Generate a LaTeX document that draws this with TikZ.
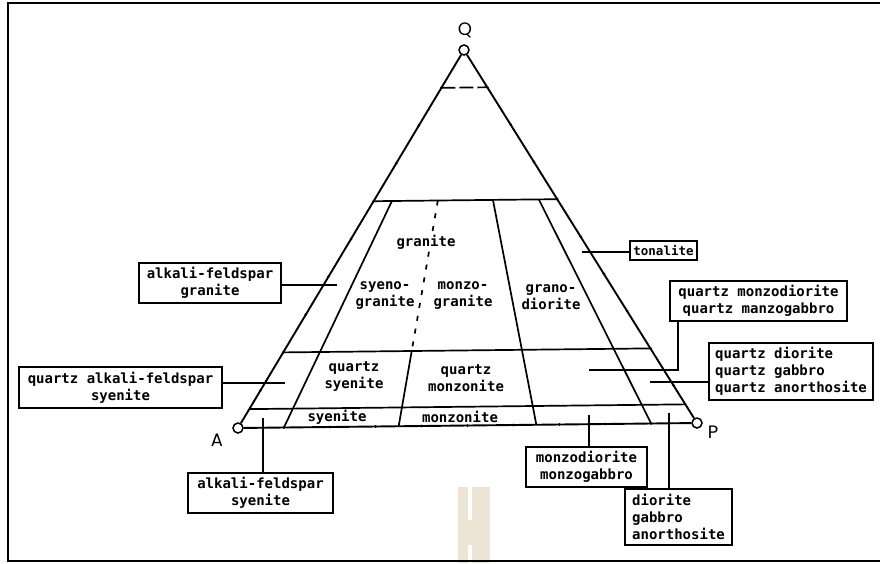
\documentclass[tikz,border=0pt]{standalone}
\usepackage{fontspec}
\setmainfont{Poppins}
\newfontfamily\lettering{DejaVu Sans Mono}
\usetikzlibrary{calc}

% point of the QAP triangle: quartz fraction #2, plagioclase ratio #3
\newcommand\qapfpt[3]{\coordinate (#1) at ($ ($(A)!#3!(P)$)!#2!(Q) $);}

\definecolor{stampbeige}{HTML}{EDE4D6}

\begin{document}
\begin{tikzpicture}[x=1pt,y=-1pt,
  edge/.style={line width=1.9pt},
  divide/.style={line width=1.7pt},
  lead/.style={line width=1.5pt},
  box/.style={draw, line width=1.5pt, inner sep=0pt, align=center,
    font=\lettering\bfseries\fontsize{14}{17}\selectfont},
  field/.style={inner sep=1pt, align=center,
    font=\lettering\bfseries\fontsize{14}{17}\selectfont},
  apexlabel/.style={inner sep=0pt, font=\fontsize{18}{18}\selectfont},
  vertex/.style={circle, draw, line width=1.5pt, minimum size=10pt,
    inner sep=0pt, fill=white},
  tickdot/.style={circle, fill, minimum size=3pt, inner sep=0pt}]
\useasboundingbox (0,0) rectangle (880,563);

% stamp at the foot of the sheet
\fill[stampbeige] (458,487) rectangle (490,563);
\fill[white] (468,487) rectangle (472,520);
\fill[white] (468,545) rectangle (472,563);

% frame
\draw[line width=2pt] (880,3) -- (8,3) -- (8,561) -- (880,561);

% corners of the triangle
\coordinate (A) at (238,428);
\coordinate (P) at (697,423);
\coordinate (Q) at (464,50);

% ticks every tenth along the three sides
\foreach \k in {1,...,9} {
  \node[tickdot] (tb\k) at ($(A)!\k/10!(P)$) {};
  \node[tickdot] (tl\k) at ($(A)!\k/10!(Q)$) {};
  \node[tickdot] (tr\k) at ($(P)!\k/10!(Q)$) {};
}

% horizontal limits of the fields
\draw[divide, dash pattern=on 14pt off 4pt] ($(A)!0.9!(Q)$) -- ($(P)!0.9!(Q)$);
\draw[divide] ($(A)!0.6!(Q)$) -- ($(P)!0.6!(Q)$);
\draw[divide] ($(A)!0.2!(Q)$) -- ($(P)!0.2!(Q)$);
\draw[divide] ($(A)!0.05!(Q)$) -- ($(P)!0.05!(Q)$);

% radial limits of the fields
\foreach \f/\n in {0.10/a, 0.35/b, 0.65/c, 0.90/d} {
  \qapfpt{top\n}{0.6}{\f}
  \qapfpt{mid\n}{0.2}{\f}
  \qapfpt{bot\n}{0}{\f}
}
\draw[divide] (topa) -- (bota);
\draw[divide] (topc) -- (botc);
\draw[divide] (topd) -- (botd);
\draw[divide] (midb) -- (botb);
\draw[divide, dash pattern=on 5pt off 8pt] (topb) -- (midb);

% sides of the triangle
\node[vertex] (vA) at (A) {};
\node[vertex] (vP) at (P) {};
\node[vertex] (vQ) at (Q) {};
\draw[edge] (vQ) -- (vA) -- (vP) -- (vQ);

\node[apexlabel] (lQ) at (465,30) {Q};
\node[apexlabel] (lA) at (217,440) {A};
\node[apexlabel] (lP) at (713,432) {P};

% names inside the fields
\node[field, fill=white] (granite) at (426,242) {granite};
\node[field] (syenogr) at (385,296) {syeno-\\granite};
\node[field] (monzogr) at (463,296) {monzo-\\granite};
\node[field] (granod) at (551,297) {grano-\\diorite};
\node[field] (qsyen) at (354,377) {quartz\\syenite};
\node[field] (qmonz) at (466,378) {quartz\\monzonite};
\node[field] (syen) at (337,417) {syenite};
\node[field] (monz) at (460,417) {monzonite};

% boxed names and their leaders
\node[box, minimum width=142pt, minimum height=40pt] (afg) at (210,283)
  {alkali-feldspar\\granite};
\coordinate (afgend) at (337,285);
\draw[lead] (afgend -| afg.east) -- (afgend);

\node[box, minimum width=203pt, minimum height=41pt] (qafs) at (120.5,387.5)
  {quartz alkali-feldspar\\syenite};
\coordinate (qafsend) at (285,383);
\draw[lead] (qafsend -| qafs.east) -- (qafsend);

\node[box, minimum width=145pt, minimum height=40pt] (afs) at (260.5,493)
  {alkali-feldspar\\syenite};
\coordinate (afsend) at (263,418);
\draw[lead] (afsend |- afs.north) -- (afsend);

\node[box, minimum width=67pt, minimum height=19pt,
  font=\lettering\bfseries\fontsize{12.5}{15}\selectfont] (ton) at (663.5,250.5)
  {tonalite};
\coordinate (tonend) at (582,252);
\draw[lead] (tonend -| ton.west) -- (tonend);

\node[box, minimum width=177pt, minimum height=40pt] (qmd) at (758.5,301)
  {quartz monzodiorite\\quartz manzogabbro};
\coordinate (qmdend) at (589,370);
\coordinate (qmdbend) at (678,370);
\draw[lead] (qmdbend |- qmd.south) -- (qmdbend) -- (qmdend);

\node[box, align=left, minimum width=164pt, minimum height=57pt] (qd) at (791,371.5)
  {quartz diorite\\quartz gabbro\\quartz anorthosite};
\coordinate (qdend) at (650,382);
\draw[lead] (qdend -| qd.west) -- (qdend);

\node[box, minimum width=121pt, minimum height=40pt] (md) at (586.5,467)
  {monzodiorite\\monzogabbro};
\coordinate (mdend) at (589,415);
\draw[lead] (mdend |- md.north) -- (mdend);

\node[box, align=left, minimum width=107pt, minimum height=56pt] (dg) at (678.5,517)
  {diorite\\gabbro\\anorthosite};
\coordinate (dgend) at (669,413);
\draw[lead] (dgend |- dg.north) -- (dgend);
\end{tikzpicture}
\end{document}
